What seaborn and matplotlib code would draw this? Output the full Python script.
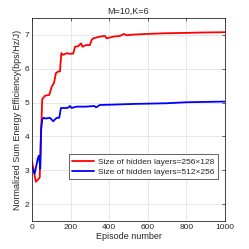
import numpy as np
import pandas as pd
import seaborn as sns
import matplotlib
matplotlib.use("Agg")
import matplotlib.pyplot as plt

# values
ep_red = [0, 20, 40, 45, 50, 53, 67, 90, 102, 114, 124, 136, 145, 152, 162, 180, 197,
          214, 223, 240, 254, 262, 280, 300, 309, 318, 352, 378, 387, 422, 456, 477,
          490, 525, 600, 698, 800, 870, 1000]
ee_red = [3.27, 2.66, 2.78, 3.8, 4.6, 5.1, 5.2, 5.23, 5.47, 5.58, 5.87, 5.92, 5.92, 6.46,
          6.41, 6.46, 6.44, 6.45, 6.65, 6.67, 6.75, 6.65, 6.7, 6.7, 6.85, 6.9, 6.95,
          6.97, 6.9, 6.95, 6.97, 7.03, 6.99, 7.01, 7.03, 7.05, 7.06, 7.07, 7.08]

ep_blue = [0, 14, 30, 36, 43, 47, 53, 60, 72, 93, 110, 128, 141, 150, 180, 190, 197,
           205, 231, 280, 323, 332, 352, 420, 525, 698, 800, 1000]
ee_blue = [3.1, 2.9, 3.35, 3.43, 3.05, 4.2, 4.5, 4.55, 4.53, 4.55, 4.45, 4.55, 4.55,
           4.84, 4.84, 4.86, 4.9, 4.84, 4.88, 4.88, 4.9, 4.86, 4.93, 4.94, 4.96, 4.98,
           5.01, 5.03]

labels = ["Size of hidden layers=256×128", "Size of hidden layers=512×256"]

df = pd.concat([
    pd.DataFrame({"episode": ep_red, "ee": ee_red, "net": labels[0]}),
    pd.DataFrame({"episode": ep_blue, "ee": ee_blue, "net": labels[1]}),
])

sns.set_style("whitegrid")
plt.rcParams['font.family'] = ['Liberation Sans', 'DejaVu Sans']

fig = plt.figure(figsize=(2.49, 2.49), dpi=100)
ax = fig.add_axes([0.1285, 0.1124, 0.775, 0.8153])

sns.lineplot(data=df, x="episode", y="ee", hue="net", sort=False,
             palette=["#ff0000", "#0000ff"], linewidth=1.3, ax=ax)

ax.set_xlim(0, 1000)
ax.set_ylim(1.5, 7.5)
ax.set_xticks([0, 200, 400, 600, 800, 1000])
ax.set_yticks([2, 3, 4, 5, 6, 7])
ax.tick_params(direction="in", labelsize=6, length=2, width=0.5, colors="#262626",
               pad=2, top=True, right=True)
ax.grid(True, color="#e3e3e3", linewidth=0.6)
for s in ax.spines.values():
    s.set_color("#262626")
    s.set_linewidth(0.6)

ax.set_title("M=10,K=6", fontsize=6.5, color="#262626", pad=3)
ax.set_xlabel("Episode number", fontsize=6.5, color="#262626", labelpad=1)
ax.set_ylabel("Normalized Sum Energy Efficiency(bps/Hz/J)", fontsize=6.5,
              color="#262626", labelpad=2)

leg = ax.legend(loc="lower right", bbox_to_anchor=(0.985, 0.185), fontsize=6,
                frameon=True, fancybox=False, borderpad=0.4, handlelength=2.6,
                handletextpad=0.5, labelspacing=0.3)
leg.get_frame().set_edgecolor("#262626")
leg.get_frame().set_linewidth(0.5)
leg.get_frame().set_alpha(1)

fig.savefig("out.png", dpi=100)
